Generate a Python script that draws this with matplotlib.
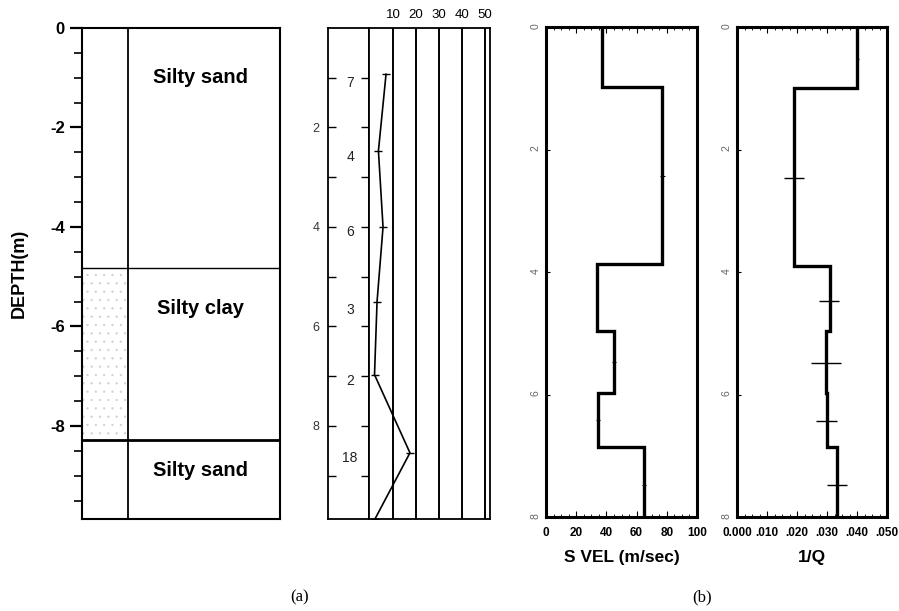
import numpy as np
import matplotlib.pyplot as plt
from matplotlib.ticker import MultipleLocator

plt.rcParams['font.family'] = ['Liberation Sans', 'DejaVu Sans']
plt.rcParams['axes.unicode_minus'] = False
plt.rcParams['hatch.linewidth'] = 0.4

# soil log (depth of layer tops, m)
layer_names = ['Silty sand', 'Silty clay', 'Silty sand']
layer_tops = [0.0, 4.82, 8.28]
bottom_depth = 9.87

# SPT N-value profile
spt_depth = [0.93, 2.47, 4.0, 5.5, 6.97, 8.54, 9.87]
spt_n = [7, 3.7, 5.7, 3.1, 2.0, 17.4, 2.2]
spt_label_depth = [1.1, 2.6, 4.1, 5.67, 7.1, 8.64]
spt_labels = ['7', '4', '6', '3', '2', '18']
n_ticks = [10, 20, 30, 40, 50]

# shear wave velocity (layer edges in m, values in m/sec)
vs_edges = [0, 0.98, 3.87, 4.97, 5.98, 6.85, 8.0]
vs_values = [37, 77, 34, 45, 34.5, 65]
vs_err_depth = [2.44, 5.47, 6.41, 7.48]
vs_err_center = [77, 45, 34.5, 65]

# attenuation 1/Q
q_edges = [0, 1.0, 3.9, 4.97, 5.98, 6.85, 8.0]
q_values = [0.040, 0.019, 0.0310, 0.0297, 0.0299, 0.0333]
q_err_depth = [0.52, 2.46, 4.48, 5.49, 6.44, 7.48]
q_err_center = [0.040, 0.019, 0.0307, 0.0297, 0.0297, 0.0333]
q_err_half = [0.0005, 0.0033, 0.0033, 0.005, 0.0035, 0.0033]
q_tick_labels = ['0.000', '.010', '.020', '.030', '.040', '.050']

W, H = 899, 611
fig = plt.figure(figsize=(W / 100, H / 100), dpi=100)


def px_axes(x0, y0, x1, y1):
    return fig.add_axes([x0 / W, 1 - y1 / H, (x1 - x0) / W, (y1 - y0) / H])


# ---- (a) soil column
ax = px_axes(82, 28, 280, 519)
ax.set_xlim(0, 1)
ax.set_ylim(-bottom_depth, 0)
split = 0.232
ax.axvline(split, color='k', lw=1.3)
ax.axhline(-layer_tops[1], color='k', lw=1.0)
ax.axhline(-layer_tops[2], color='k', lw=2.0)
ax.fill_between([0, split], -layer_tops[2], -layer_tops[1],
                facecolor='none', edgecolor='#cfcfcf', hatch='..', lw=0)
text_y = [-0.99, -5.63, -8.9]
for name, ty in zip(layer_names, text_y):
    ax.text(0.6, ty, name, ha='center', va='center', fontsize=14.5,
            fontweight='bold')
ax.set_xticks([])
ax.set_yticks([0, -2, -4, -6, -8])
ax.yaxis.set_minor_locator(MultipleLocator(0.5))
ax.tick_params(axis='y', which='major', direction='out', length=9, width=1.6,
               labelsize=12)
ax.tick_params(axis='y', which='minor', direction='out', length=6, width=1.2)
for lbl in ax.get_yticklabels():
    lbl.set_fontweight('bold')
ax.set_ylabel('DEPTH(m)', fontsize=13, fontweight='bold', labelpad=16)
for sp in ax.spines.values():
    sp.set_linewidth(1.5)

# ---- SPT depth column
col = px_axes(328, 28, 369, 519)
col.set_xlim(0, 1)
col.set_ylim(bottom_depth, 0)
col.set_xticks([])
col.set_yticks([2, 4, 6, 8])
col.set_yticks([1, 3, 5, 7, 9], minor=True)
col.tick_params(axis='y', which='both', direction='in', left=True, right=True,
                length=6, width=1.0, labelsize=9, labelcolor='#333333', pad=6)
for d, s in zip(spt_label_depth, spt_labels):
    col.text(0.54, d, s, ha='center', va='center', fontsize=10, color='#222222')
for sp in col.spines.values():
    sp.set_linewidth(1.3)

# ---- SPT N-value plot
spt = px_axes(369, 28, 490, 519)
spt.set_xlim(-0.4, 52.2)
spt.set_ylim(bottom_depth, 0)
for n in n_ticks:
    spt.axvline(n, color='k', lw=1.4)
spt.plot(spt_n, spt_depth, color='k', lw=1.2, marker='_', markersize=6)
spt.xaxis.tick_top()
spt.set_xticks(n_ticks)
spt.tick_params(axis='x', length=0, labelsize=9.5, pad=5)
spt.set_yticks([])
for sp in spt.spines.values():
    sp.set_linewidth(1.3)

# ---- (b) S VEL
vs = px_axes(546, 27, 697, 517)
vs.stairs(vs_values, vs_edges, orientation='horizontal', baseline=None,
          color='k', lw=2.4)
vs.errorbar(vs_err_center, vs_err_depth, xerr=1.5, fmt='none', ecolor='k',
            elinewidth=0.8)
vs.set_xlim(0, 100)
vs.set_ylim(8, 0)
vs.set_xticks(np.arange(0, 101, 20))
vs.xaxis.set_minor_locator(MultipleLocator(5))
vs.set_xlabel('S VEL (m/sec)', fontsize=12.5, fontweight='bold', labelpad=8)

# ---- (b) 1/Q
qa = px_axes(737, 27, 887, 517)
qa.stairs(q_values, q_edges, orientation='horizontal', baseline=None,
          color='k', lw=2.4)
qa.errorbar(q_err_center, q_err_depth, xerr=q_err_half, fmt='none',
            ecolor='k', elinewidth=1.0)
qa.set_xlim(0, 0.05)
qa.set_ylim(8, 0)
qa.set_xticks(np.arange(0, 0.051, 0.01), labels=q_tick_labels)
qa.xaxis.set_minor_locator(MultipleLocator(0.0025))
qa.set_xlabel('1/Q', fontsize=12.5, fontweight='bold', labelpad=8)

for a in (vs, qa):
    a.set_yticks([0, 2, 4, 6, 8])
    a.tick_params(axis='y', direction='in', length=3, labelsize=7.5,
                  labelcolor='#666666', labelrotation=90, pad=4)
    a.tick_params(axis='x', which='major', direction='in', length=4,
                  top=True, labelsize=8.5, pad=7)
    a.tick_params(axis='x', which='minor', direction='in', length=2, top=True)
    for lbl in a.get_xticklabels():
        lbl.set_fontweight('bold')
    for sp in a.spines.values():
        sp.set_linewidth(2.2)

fig.text(300 / W, 1 - 597 / H, '(a)', family=['Liberation Serif', 'DejaVu Serif'],
         fontsize=12, ha='center', va='center')
fig.text(702 / W, 1 - 597 / H, '(b)', family=['Liberation Serif', 'DejaVu Serif'],
         fontsize=12, ha='center', va='center')

fig.savefig('out.png', dpi=100)
